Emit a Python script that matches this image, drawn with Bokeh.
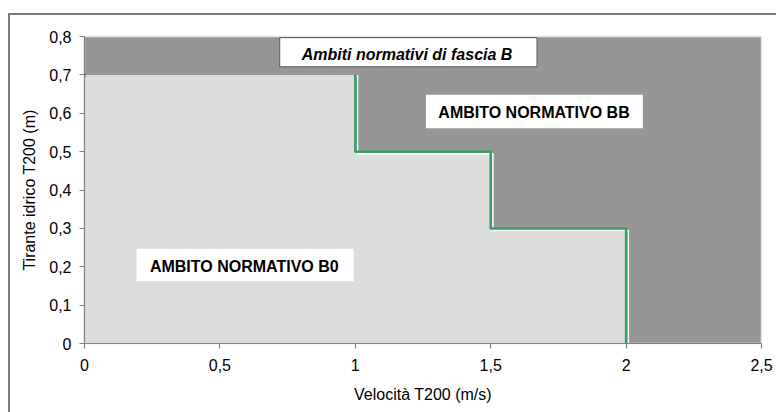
from bokeh.plotting import figure
from bokeh.models import Range1d, FixedTicker, BoxAnnotation, Label
from bokeh.embed import file_html
from bokeh.resources import INLINE

# ---- data ----
velocity_breaks = [0, 1, 1.5, 2]          # m/s, step limits
depth_limits = [0.7, 0.5, 0.3]            # m, max depth for B0 in each step
x_ticks = [0, 0.5, 1, 1.5, 2, 2.5]
x_tick_labels = ["0", "0,5", "1", "1,5", "2", "2,5"]
y_ticks = [0, 0.1, 0.2, 0.3, 0.4, 0.5, 0.6, 0.7, 0.8]
y_tick_labels = ["0", "0,1", "0,2", "0,3", "0,4", "0,5", "0,6", "0,7", "0,8"]
title_text = "Ambiti normativi di fascia B"
zone_bb = "AMBITO NORMATIVO BB"
zone_b0 = "AMBITO NORMATIVO B0"

FONT = "Liberation Sans"
DARK = "#969696"
LIGHT = "#dddddd"
GREEN = "#34a064"
FRAME_LINE = "#7a7a7a"

p = figure(width=776, height=412, output_backend="svg", toolbar_location=None,
           x_range=Range1d(0, 2.5), y_range=Range1d(0, 0.8),
           min_border_left=84, min_border_right=15, min_border_top=36, min_border_bottom=69,
           background_fill_color=DARK, border_fill_color="white", border_fill_alpha=0)
# outer chart border (top and left edges only fall inside the window)
p.styles = {
    "background-color": "white",
    "background-image": f"linear-gradient({FRAME_LINE}, {FRAME_LINE}), linear-gradient({FRAME_LINE}, {FRAME_LINE})",
    "background-size": "100% 2px, 2px 100%",
    "background-position": "8px 13px, 8px 13px",
    "background-repeat": "no-repeat",
}
p.grid.visible = False
p.outline_line_color = "#e4e4e4"
p.outline_line_width = 1.5

# light area under step limit
px = [velocity_breaks[0]]
py = [0]
for i, d in enumerate(depth_limits):
    px += [velocity_breaks[i], velocity_breaks[i + 1]]
    py += [d, d]
px += [velocity_breaks[-1]]
py += [0]
p.patch(px, py, fill_color=LIGHT, line_color=None)

# green boundary line (from first step corner)
lx, ly = [], []
for i in range(1, len(velocity_breaks)):
    lx += [velocity_breaks[i], velocity_breaks[i]]
    ly += [depth_limits[i - 1], depth_limits[i] if i < len(depth_limits) else 0]
dx, dy = 2.2 / 270.8, 2.2 / 384.5
wx = [x + dx for x in lx]
wy = [y - dy if 0 < y < depth_limits[0] else y for y in ly]
p.line(wx, wy, line_color="white", line_width=1.5)
p.line(lx, ly, line_color=GREEN, line_width=2.5)
p.scatter([velocity_breaks[0]], [depth_limits[0]], marker="square", size=3,
          fill_color=GREEN, line_color=None)

# axes
for ax in (p.xaxis[0], p.yaxis[0]):
    ax.axis_line_color = "#808080"
    ax.axis_line_width = 1.2
    ax.major_tick_line_color = "#808080"
    ax.major_tick_line_width = 1.2
    ax.major_tick_out = 5
    ax.major_tick_in = 0
    ax.minor_tick_line_color = None
    ax.major_label_text_font = FONT
    ax.major_label_text_font_size = "16px"
    ax.major_label_text_color = "black"
    ax.axis_label_text_font = FONT
    ax.axis_label_text_font_size = "16px"
    ax.axis_label_text_font_style = "normal"
    ax.axis_label_text_color = "black"

p.xaxis.ticker = FixedTicker(ticks=x_ticks)
p.xaxis.major_label_overrides = dict(zip(x_ticks, x_tick_labels))
p.yaxis.ticker = FixedTicker(ticks=y_ticks)
p.yaxis.major_label_overrides = dict(zip(y_ticks, y_tick_labels))
p.xaxis.axis_label = "Velocità T200 (m/s)"
p.yaxis.axis_label = "Tirante idrico T200 (m)"
p.xaxis.major_label_standoff = 10
p.xaxis.axis_label_standoff = 12
p.yaxis.major_label_standoff = 8
p.yaxis.axis_label_standoff = 8

# text boxes
boxes = [
    (0.721, 1.671, 0.721, 0.797, "#5a5a5a"),
    (1.261, 2.062, 0.561, 0.648, None),
    (0.192, 0.994, 0.162, 0.247, None),
]
for l, r, b, t, lc in boxes:
    p.add_layout(BoxAnnotation(left=l, right=r, bottom=b, top=t,
                               fill_color="white", fill_alpha=1,
                               line_color=lc, line_width=1, line_alpha=1 if lc else 0))

labels = [
    (1.191, 0.754, title_text, "bold italic"),
    (1.660, 0.602, zone_bb, "bold"),
    (0.590, 0.2018, zone_b0, "bold"),
]
for x, y, t, st in labels:
    p.add_layout(Label(x=x, y=y, text=t, text_align="center", text_baseline="alphabetic",
                       text_font=FONT, text_font_size="16px", text_font_style=st,
                       text_color="black"))

open("out.html", "w").write(file_html(p, INLINE))
